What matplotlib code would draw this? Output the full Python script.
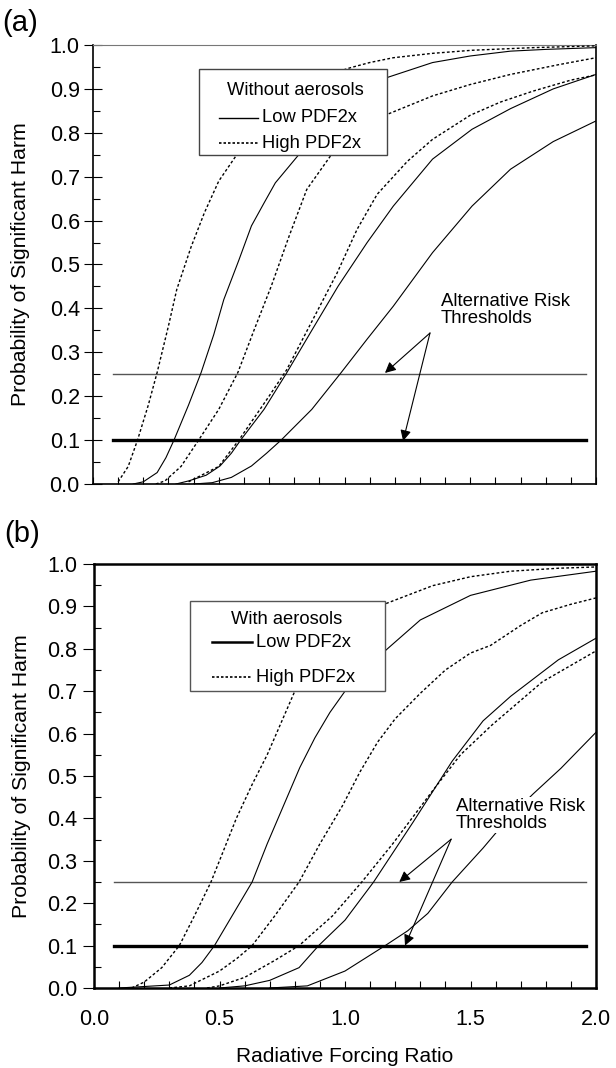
import matplotlib
matplotlib.use("Agg")
import matplotlib.pyplot as plt
from matplotlib.patches import Rectangle
from matplotlib.ticker import MultipleLocator, FormatStrFormatter

plt.rcParams['font.family'] = ['Liberation Sans', 'DejaVu Sans']

# ---------------- data: panel (a) without aerosols ----------------
a_high1_x = [0.10, 0.14, 0.177, 0.22, 0.255, 0.30, 0.333, 0.39, 0.443, 0.50, 0.568, 0.65, 0.75, 0.85, 0.95, 1.022, 1.10, 1.194, 1.35, 1.507, 1.75, 2.0]
a_high1_y = [0.005, 0.04, 0.10, 0.18, 0.254, 0.36, 0.443, 0.54, 0.618, 0.69, 0.747, 0.81, 0.87, 0.91, 0.935, 0.948, 0.96, 0.971, 0.981, 0.988, 0.994, 0.998]
a_low1_x = [0.16, 0.20, 0.255, 0.29, 0.322, 0.38, 0.43, 0.48, 0.52, 0.58, 0.63, 0.68, 0.725, 0.818, 0.90, 1.0, 1.17, 1.35, 1.5, 1.66, 1.8, 2.0]
a_low1_y = [0.0, 0.005, 0.026, 0.06, 0.10, 0.18, 0.254, 0.34, 0.42, 0.51, 0.588, 0.64, 0.686, 0.75, 0.81, 0.86, 0.926, 0.96, 0.975, 0.986, 0.99, 0.994]
a_high2_x = [0.25, 0.286, 0.35, 0.42, 0.50, 0.576, 0.64, 0.709, 0.78, 0.85, 0.944, 1.05, 1.17, 1.35, 1.5, 1.66, 1.85, 2.0]
a_high2_y = [0.0, 0.007, 0.04, 0.10, 0.17, 0.254, 0.35, 0.451, 0.565, 0.671, 0.747, 0.80, 0.842, 0.884, 0.91, 0.933, 0.955, 0.971]
a_high3_x = [0.38, 0.50, 0.58, 0.70, 0.77, 0.87, 0.97, 1.05, 1.13, 1.25, 1.35, 1.50, 1.62, 1.75, 1.90, 2.0]
a_high3_y = [0.005, 0.04, 0.10, 0.20, 0.26, 0.37, 0.48, 0.58, 0.66, 0.735, 0.785, 0.84, 0.87, 0.895, 0.92, 0.932]
a_low2_x = [0.33, 0.38, 0.45, 0.505, 0.55, 0.587, 0.68, 0.771, 0.87, 0.975, 1.09, 1.194, 1.35, 1.507, 1.66, 1.83, 2.0]
a_low2_y = [0.0, 0.007, 0.02, 0.041, 0.07, 0.10, 0.17, 0.254, 0.35, 0.451, 0.55, 0.633, 0.74, 0.808, 0.855, 0.90, 0.933]
a_low3_x = [0.40, 0.474, 0.55, 0.63, 0.69, 0.748, 0.87, 0.987, 1.09, 1.194, 1.35, 1.507, 1.66, 1.83, 2.0]
a_low3_y = [0.0, 0.003, 0.015, 0.041, 0.07, 0.10, 0.17, 0.254, 0.33, 0.405, 0.527, 0.633, 0.717, 0.78, 0.827]

# ---------------- data: panel (b) with aerosols ----------------
b_high1_x = [0.15, 0.2, 0.27, 0.34, 0.40, 0.466, 0.52, 0.567, 0.63, 0.69, 0.80, 0.9, 1.0, 1.169, 1.35, 1.5, 1.66, 1.85, 2.0]
b_high1_y = [0.0, 0.014, 0.048, 0.10, 0.17, 0.25, 0.33, 0.40, 0.48, 0.55, 0.70, 0.80, 0.86, 0.908, 0.949, 0.97, 0.983, 0.99, 0.993]
b_low1_x = [0.1, 0.30, 0.38, 0.43, 0.48, 0.55, 0.63, 0.69, 0.755, 0.82, 0.88, 0.94, 1.0, 1.05, 1.169, 1.30, 1.5, 1.74, 2.0]
b_low1_y = [0.0, 0.007, 0.03, 0.06, 0.10, 0.17, 0.25, 0.34, 0.43, 0.52, 0.59, 0.65, 0.70, 0.735, 0.80, 0.868, 0.926, 0.962, 0.983]
b_high2_x = [0.3, 0.38, 0.50, 0.57, 0.63, 0.72, 0.817, 0.9, 0.99, 1.06, 1.13, 1.20, 1.30, 1.40, 1.50, 1.58, 1.70, 1.786, 1.9, 2.0]
b_high2_y = [0.0, 0.005, 0.04, 0.07, 0.10, 0.17, 0.25, 0.34, 0.43, 0.51, 0.58, 0.635, 0.695, 0.75, 0.79, 0.808, 0.855, 0.885, 0.905, 0.92]
b_high3_x = [0.45, 0.5, 0.6, 0.72, 0.817, 0.95, 1.067, 1.19, 1.35, 1.46, 1.585, 1.786, 2.0]
b_high3_y = [0.0, 0.005, 0.025, 0.065, 0.10, 0.17, 0.25, 0.34, 0.466, 0.55, 0.62, 0.722, 0.795]
b_low2_x = [0.5, 0.6, 0.7, 0.817, 0.895, 1.0, 1.114, 1.27, 1.427, 1.55, 1.66, 1.85, 2.0]
b_low2_y = [0.0, 0.005, 0.018, 0.048, 0.10, 0.16, 0.25, 0.39, 0.535, 0.63, 0.688, 0.774, 0.825]
b_low3_x = [0.7, 0.85, 1.0, 1.08, 1.16, 1.25, 1.33, 1.427, 1.55, 1.65, 1.75, 1.86, 2.0]
b_low3_y = [0.0, 0.005, 0.04, 0.07, 0.10, 0.135, 0.176, 0.25, 0.33, 0.40, 0.458, 0.518, 0.603]

thresholds = [0.25, 0.10]
threshold_x = [0.08, 1.96]

W, H = 616, 1068
fig = plt.figure(figsize=(W / 100, H / 100), dpi=100)

def px_axes(left, top, right, bottom):
    return fig.add_axes([left / W, 1 - bottom / H, (right - left) / W, (bottom - top) / H])

ax_a = px_axes(93, 45, 596, 484)
ax_b = px_axes(94, 564, 596, 988)

DOT = (0, (2.0, 1.6))
TICK_FS = 15.5
LEG_FS = 13.2
ANN_FS = 13.4

def draw_panel(ax, lows, highs):
    for x, y in highs:
        ax.plot(x, y, color='black', lw=1.0, ls=DOT, zorder=3)
    for x, y in lows:
        ax.plot(x, y, color='black', lw=0.8, zorder=3)
    ax.plot(threshold_x, [thresholds[0]] * 2, color='#555555', lw=1.0, zorder=2)
    ax.plot(threshold_x, [thresholds[1]] * 2, color='black', lw=2.4, zorder=2)
    ax.set_xlim(0, 2.0)
    ax.set_ylim(0, 1.0)
    ax.yaxis.set_major_locator(MultipleLocator(0.1))
    ax.yaxis.set_minor_locator(MultipleLocator(0.05))
    ax.yaxis.set_major_formatter(FormatStrFormatter('%.1f'))
    ax.xaxis.set_major_locator(MultipleLocator(0.5))
    ax.xaxis.set_minor_locator(MultipleLocator(0.1))
    ax.xaxis.set_major_formatter(FormatStrFormatter('%.1f'))
    ax.tick_params(axis='y', which='minor', direction='in', length=5, width=0.8)
    ax.tick_params(axis='x', which='major', direction='in', length=5, width=0.8, labelsize=TICK_FS, pad=15)
    ax.tick_params(axis='x', which='minor', direction='in', length=5, width=0.8)
    ax.set_ylabel('Probability of Significant Harm', fontsize=15.3)
    ax.yaxis.set_label_coords(-0.125, 0.5)

draw_panel(ax_a,
           [(a_low1_x, a_low1_y), (a_low2_x, a_low2_y), (a_low3_x, a_low3_y)],
           [(a_high1_x, a_high1_y), (a_high2_x, a_high2_y), (a_high3_x, a_high3_y)])
draw_panel(ax_b,
           [(b_low1_x, b_low1_y), (b_low2_x, b_low2_y), (b_low3_x, b_low3_y)],
           [(b_high1_x, b_high1_y), (b_high2_x, b_high2_y), (b_high3_x, b_high3_y)])

ax_a.tick_params(axis='y', which='major', direction='inout', length=13, width=0.8, labelsize=TICK_FS, pad=3)
ax_b.tick_params(axis='y', which='major', direction='out', length=8, width=0.8, labelsize=TICK_FS, pad=4)

# spines
for s in ['left', 'bottom', 'right']:
    ax_a.spines[s].set_linewidth(1.2)
ax_a.spines['top'].set_color('#777777')
ax_a.spines['top'].set_linewidth(0.8)
ax_a.tick_params(axis='x', labelbottom=False)
for s in ax_b.spines.values():
    s.set_linewidth(1.8)
ax_b.set_xlabel('Radiative Forcing Ratio', fontsize=15, labelpad=12)

# legends (boxes drawn in data coordinates)
def legend_box(ax, x0, y0, x1, y1, title, tx, ty, ly1, ly2, lx0, lx1, txt_x, lowlw, edge):
    ax.add_patch(Rectangle((x0, y0), x1 - x0, y1 - y0, facecolor='white', edgecolor=edge, lw=1.0, zorder=5))
    ax.text(tx, ty, title, ha='center', va='center', fontsize=LEG_FS, zorder=6)
    ax.plot([lx0, lx1], [ly1, ly1], color='black', lw=lowlw, zorder=6)
    ax.plot([lx0, lx1], [ly2, ly2], color='black', lw=1.2, ls=(0, (1.5, 1.2)), zorder=6)
    ax.text(txt_x, ly1, 'Low PDF2x', ha='left', va='center', fontsize=LEG_FS, zorder=6)
    ax.text(txt_x, ly2, 'High PDF2x', ha='left', va='center', fontsize=LEG_FS, zorder=6)

legend_box(ax_a, 0.421, 0.749, 1.170, 0.946, 'Without aerosols', 0.806, 0.897, 0.834, 0.776, 0.502, 0.657, 0.672, 1.0, '#444444')
legend_box(ax_b, 0.383, 0.701, 1.161, 0.913, 'With aerosols', 0.767, 0.869, 0.815, 0.733, 0.469, 0.630, 0.646, 1.8, '#555555')

# annotations
def annot(ax, tx, ty, src, tgt1, tgt2):
    ax.text(tx, ty, 'Alternative Risk\nThresholds', ha='left', va='top', fontsize=ANN_FS, linespacing=1.0,
            zorder=6, bbox=dict(facecolor='white', edgecolor='none', pad=1))
    for tgt in (tgt1, tgt2):
        ax.annotate('', xy=tgt, xytext=src, zorder=7,
                    arrowprops=dict(arrowstyle='-|>', color='black', lw=0.8, mutation_scale=16,
                                    shrinkA=0, shrinkB=0))

annot(ax_a, 1.382, 0.436, (1.340, 0.344), (1.161, 0.253), (1.233, 0.098))
annot(ax_b, 1.442, 0.448, (1.423, 0.351), (1.216, 0.250), (1.239, 0.100))

fig.text(2 / W, 1 - 9 / H, '(a)', fontsize=21, ha='left', va='top')
fig.text(4 / W, 1 - 520 / H, '(b)', fontsize=21, ha='left', va='top')

fig.savefig('out.png', dpi=100)
